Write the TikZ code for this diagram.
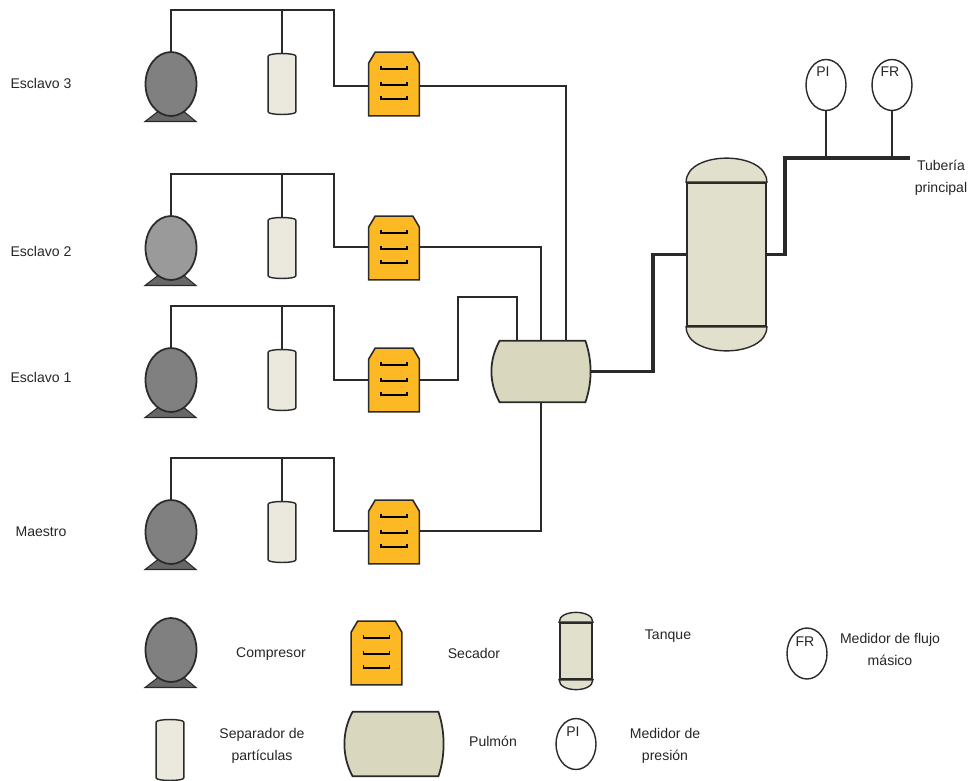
\documentclass[tikz,border=0pt]{standalone}
\usepackage{fontspec}
\setmainfont{Liberation Sans}
\usetikzlibrary{shapes.geometric,calc}
\definecolor{gris}{HTML}{808080}
\definecolor{grisclaro}{HTML}{9A9A9A}
\definecolor{ambar}{HTML}{FDB924}
\definecolor{hueso}{HTML}{EBE9DD}
\definecolor{arena}{HTML}{E1E0CC}
\definecolor{oliva}{HTML}{D9D8BF}
\definecolor{linea}{HTML}{2A2A2A}
\tikzset{
  pics/compresor/.style={code={
    \fill[gris!80!black,draw=linea,line width=.6pt] (-26,37.5) -- (-11,26) -- (11,26) -- (25,37.5) -- cycle;
    \node[compbox,fill=#1] (-body) {};
  }},
  pics/separador/.style={code={
    \node[sepbox] (-body) {};
    \draw[linea,fill=hueso,line width=.8pt] ([yshift=-.07cm]-body.north west)
      .. controls (-body.north west) and (-body.north east) .. ([yshift=-.07cm]-body.north east)
      -- ([yshift=.07cm]-body.south east)
      .. controls (-body.south east) and (-body.south west) .. ([yshift=.07cm]-body.south west) -- cycle;
  }},
  pics/secador/.style={code={
    \node[secbox] (-body) {};
    \draw[linea,fill=ambar,line width=.9pt] (-body.south west) -- ([yshift=-.22cm]-body.north west)
      -- ([xshift=.13cm]-body.north west) -- ([xshift=-.13cm]-body.north east)
      -- ([yshift=-.22cm]-body.north east) -- (-body.south east) -- cycle;
    \foreach \t in {-15,1,15} {
      \draw[black,line width=.7pt] (-13,\t-3) -- (-13,\t) -- (13,\t) -- (13,\t-3);
    }
  }},
  pics/pulmon/.style={code={
    \node[pulbox,minimum height=#1] (-body) {};
    \draw[linea,fill=oliva,line width=1pt] ([xshift=.16cm]-body.north west) -- ([xshift=-.1cm]-body.north east)
      .. controls +(7,20) and +(7,-20) .. ([xshift=-.1cm]-body.south east)
      -- ([xshift=.16cm]-body.south west)
      .. controls +(-11,-20) and +(-11,20) .. cycle;
  }},
  pics/tanque/.style args={#1/#2/#3}{code={
    \node[tanbox,minimum width=#1,minimum height=#2] (-body) {};
    \draw[linea,fill=arena,line width=.8pt] (-body.north west) .. controls +(0,-#3) and +(0,-#3) .. (-body.north east) -- cycle;
    \draw[linea,fill=arena,line width=.8pt] (-body.south west) .. controls +(0,#3) and +(0,#3) .. (-body.south east) -- cycle;
  }}
}
\begin{document}
\begin{tikzpicture}[
  x=.02cm,y=-.02cm,
  every node/.style={font=\fontsize{8}{12.5}\selectfont,align=center,text=black!85},
  compbox/.style={ellipse,draw=linea,line width=1pt,minimum width=1.02cm,minimum height=1.28cm,inner sep=0pt},
  sepbox/.style={rectangle,minimum width=.54cm,minimum height=1.24cm,inner sep=0pt},
  secbox/.style={rectangle,minimum width=1cm,minimum height=1.26cm,inner sep=0pt},
  pulbox/.style={rectangle,minimum width=1.96cm,inner sep=0pt},
  tanbox/.style={rectangle,draw=linea,fill=arena,line width=1pt,inner sep=0pt},
  medidor/.style={ellipse,draw=linea,fill=white,line width=.8pt,minimum width=.8cm,minimum height=1.02cm,inner sep=0pt},
  pipe/.style={draw=linea,line width=.9pt},
  pipegrueso/.style={draw=linea,line width=1.9pt}
]
\useasboundingbox (0,0) rectangle (971,781);
% filas de compresion
\foreach \r/\yb/\yc/\yh/\col/\nom/\yt in {3/84/86/10/gris/Esclavo 3/83,2/248/247/174/grisclaro/Esclavo 2/251,1/380/380/306/gris/Esclavo 1/377,0/532/531/458/gris/Maestro/532} {
  \node (lab\r) at (41,\yt) {\nom};
  \coordinate (h\r) at (334,\yh);
  \coordinate (in\r) at (369,\yc);
  \coordinate (out\r) at (419,\yc);
  \pic (c\r) at (171,\yb) {compresor=\col};
  \pic (s\r) at (282,\yb) {separador};
  \pic (d\r) at (394,\yb) {secador};
  \draw[pipe] (c\r-body.north) |- (h\r) |- (in\r);
  \draw[pipe] (s\r-body.north) -- (s\r-body.north |- h\r);
}
% pulmon y tanque
\pic (pul) at (541,371.5) {pulmon=1.22cm};
\pic (tan) at (726.5,254.5) {tanque=1.58cm/2.86cm/32};
\coordinate (e3) at (566,341);
\coordinate (e2) at (541,341);
\coordinate (e1) at (517,341);
\draw[pipe] (out3) -| (e3);
\draw[pipe] (out2) -| (e2);
\draw[pipe] (out1) -- (458,380) |- (517,297) -- (e1);
\draw[pipe] (out0) -| (pul-body.south);
\coordinate (salida) at (910,158);
\draw[pipegrueso] (pul-body.east) -- (653,371.5) |- (tan-body.west);
\draw[pipegrueso] (tan-body.east) -- (785,254.5) |- (salida);
% medidores
\node[medidor] (pi) at (826,85) {};
\node[medidor] (fr) at (892,85) {};
\node (pitxt) at (823,72) {PI};
\node (frtxt) at (890,72) {FR};
\draw[pipe] (pi.south) -- (pi.south |- salida);
\draw[pipe] (fr.south) -- (fr.south |- salida);
\node (tub) at (941,178) {Tubería\\principal};
% leyenda
\pic (lc) at (171,650) {compresor=gris};
\node (ltc) at (271,654) {Compresor};
\pic (ld) at (376.5,653) {secador};
\node (ltd) at (474,653) {Secador};
\pic (lt) at (576,651) {tanque=.64cm/1.12cm/13};
\node (ltt) at (668,636) {Tanque};
\node[medidor] (lf) at (807,653.5) {};
\node (lff) at (805,642) {FR};
\node (ltf) at (890,649) {Medidor de flujo\\másico};
\pic (ls) at (170,750) {separador};
\node (lts) at (262,746) {Separador de\\partículas};
\pic (lp) at (394,744) {pulmon=1.28cm};
\node (ltp) at (493,741) {Pulmón};
\node[medidor] (lm) at (576,744) {};
\node (lmm) at (573,732) {PI};
\node (ltm) at (665,746) {Medidor de\\presión};
\end{tikzpicture}
\end{document}
